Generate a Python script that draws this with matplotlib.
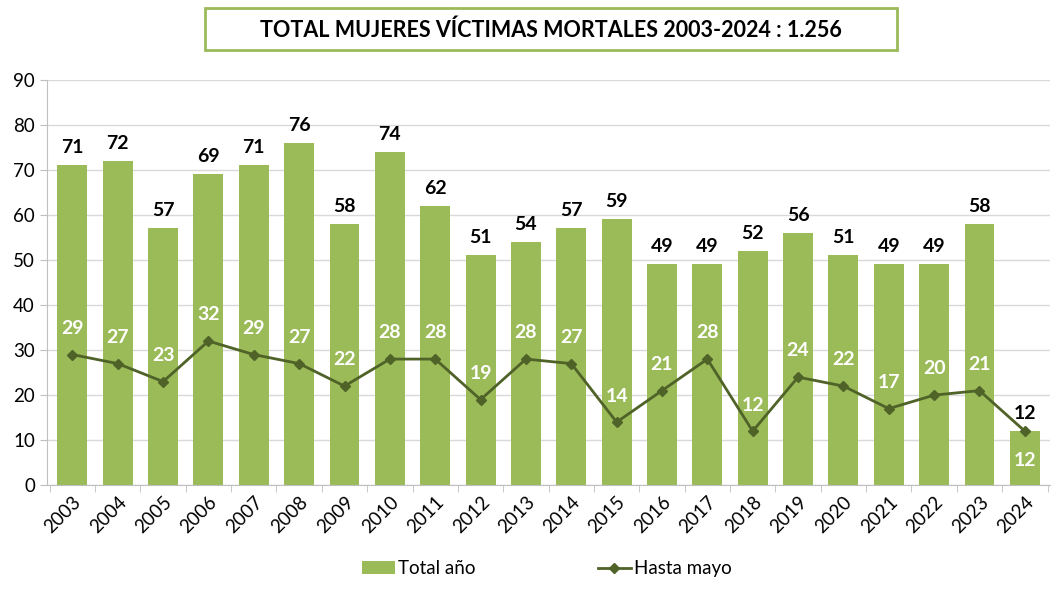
import numpy as np
import matplotlib.pyplot as plt
from matplotlib.patches import Rectangle

years = [str(y) for y in range(2003, 2025)]
total_anio = [71, 72, 57, 69, 71, 76, 58, 74, 62, 51, 54, 57, 59, 49, 49, 52, 56, 51, 49, 49, 58, 12]
hasta_mayo = [29, 27, 23, 32, 29, 27, 22, 28, 28, 19, 28, 27, 14, 21, 28, 12, 24, 22, 17, 20, 21, 12]

plt.rcParams['font.family'] = ['Lato', 'DejaVu Sans']

bar_color = '#9BBB59'
line_color = '#4F6228'

fig = plt.figure(figsize=(10.54, 5.91), dpi=100)
ax = fig.add_axes([0.045, 0.179, 0.951, 0.686])

x = np.arange(len(years))
bars = ax.bar(x, total_anio, width=0.66, color=bar_color, label='Total año', zorder=2)
line, = ax.plot(x, hasta_mayo, color=line_color, marker='D', markersize=5, linewidth=2,
                label='Hasta mayo', zorder=3)

for i, (t, h) in enumerate(zip(total_anio, hasta_mayo)):
    ax.text(i, t + 2, str(t), ha='center', va='bottom', fontsize=14,
            fontweight='bold', color='black', zorder=4)
    if i == len(years) - 1:
        ax.text(i, h - 6.5, str(h), ha='center', va='center', fontsize=14,
                fontweight='bold', color='white', zorder=4)
    else:
        ax.text(i, h + 5.8, str(h), ha='center', va='center', fontsize=14,
                fontweight='bold', color='white', zorder=4)

ax.set_xlim(-0.55, len(years) - 0.45)
ax.set_ylim(0, 90)
ax.set_yticks(range(0, 91, 10))
ax.tick_params(axis='y', labelsize=13.5, length=5, color='#BFBFBF', pad=4)
ax.grid(axis='y', color='#D9D9D9', linewidth=1, zorder=0)

ax.set_xticks(x)
ax.set_xticklabels(years, rotation=45, ha='right', rotation_mode='anchor', fontsize=13.5)
ax.tick_params(axis='x', which='major', length=0, pad=6)
ax.set_xticks(np.arange(-0.5, len(years), 1), minor=True)
ax.tick_params(axis='x', which='minor', length=5, color='#BFBFBF')

for s in ['top', 'right']:
    ax.spines[s].set_visible(False)
for s in ['left', 'bottom']:
    ax.spines[s].set_color('#BFBFBF')

# title box
fig.patches.append(Rectangle((205 / 1054, 1 - 50 / 591), 692 / 1054, 42 / 591,
                             transform=fig.transFigure, facecolor='white',
                             edgecolor=bar_color, linewidth=2))
fig.text(551 / 1054, 1 - 30 / 591, 'TOTAL MUJERES VÍCTIMAS MORTALES 2003-2024 : 1.256',
         ha='center', va='center', fontsize=15.5, fontweight='bold')

fig.legend([bars, line], ['Total año', 'Hasta mayo'], loc='lower center',
           bbox_to_anchor=(0.519, -0.005), ncol=2, frameon=False,
           fontsize=13.5, columnspacing=6.5, handlelength=1.75, handletextpad=0.2)

fig.savefig('out.png', dpi=100)
